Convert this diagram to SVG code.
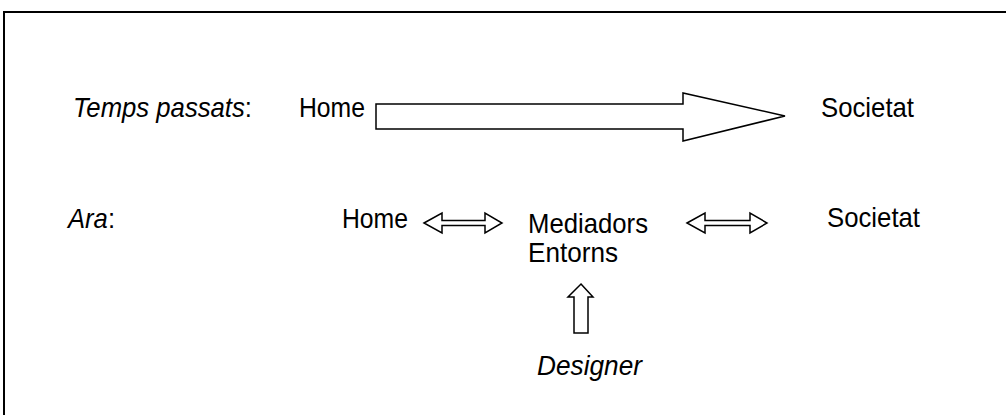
<svg xmlns="http://www.w3.org/2000/svg" width="1006" height="415" viewBox="0 0 1006 415">
<style>
text{font-family:"Liberation Sans",Arial,sans-serif;font-size:28px;fill:#000}
.i{font-style:italic}
.arr{fill:#fff;stroke:#000;stroke-width:1.5;stroke-linejoin:miter}
</style>
<rect width="1006" height="415" fill="#fff"/>
<g id="frame"><path d="M4 415 V12 H1006" fill="none" stroke="#000" stroke-width="2"/></g>
<g id="labels">
<text x="73" y="117" textLength="179" lengthAdjust="spacingAndGlyphs"><tspan class="i">Temps passats</tspan>:</text>
<text x="68" y="228" textLength="47" lengthAdjust="spacingAndGlyphs"><tspan class="i">Ara</tspan>:</text>
</g>
<g id="home1"><text x="299" y="117" textLength="66" lengthAdjust="spacingAndGlyphs">Home</text></g>
<g id="societat1"><text x="821" y="117" textLength="93" lengthAdjust="spacingAndGlyphs">Societat</text></g>
<g id="home2"><text x="342" y="228" textLength="66" lengthAdjust="spacingAndGlyphs">Home</text></g>
<g id="mediadors"><text x="528" y="233" textLength="120" lengthAdjust="spacingAndGlyphs">Mediadors</text><text x="528" y="262" textLength="90" lengthAdjust="spacingAndGlyphs">Entorns</text></g>
<g id="societat2"><text x="827" y="227" textLength="93" lengthAdjust="spacingAndGlyphs">Societat</text></g>
<g id="designer"><text class="i" x="537" y="375" textLength="105" lengthAdjust="spacingAndGlyphs">Designer</text></g>
<g id="connectors">
<polygon class="arr" points="376,104 683,104 683,93 785,116 683,141 683,129 376,129"/>
<polygon class="arr" points="424,223 442,213 442,220.5 485,220.5 485,213 502,223 485,233 485,225.5 442,225.5 442,233"/>
<polygon class="arr" points="687,223 705,213 705,220.5 750,220.5 750,213 767,223 750,233 750,225.5 705,225.5 705,233"/>
<polygon class="arr" points="581,284 593,297 588,297 588,333 574,333 574,297 568,297"/>
</g>
</svg>
